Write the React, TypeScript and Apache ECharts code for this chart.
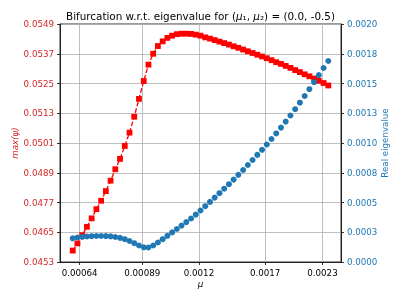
import React, { useEffect, useRef } from "react";
import * as echarts from "echarts";

// bifurcation parameter mu (log-spaced samples)
const mu = [
  0.000617, 0.0006326, 0.0006486, 0.0006649, 0.0006817, 0.0006989, 0.0007166, 0.0007347, 0.0007532, 0.0007722,
  0.0007917, 0.0008117, 0.0008322, 0.0008532, 0.0008748, 0.0008969, 0.0009195, 0.0009427, 0.0009665, 0.000991,
  0.001016, 0.0010416, 0.0010679, 0.0010949, 0.0011225, 0.0011509, 0.0011799, 0.0012097, 0.0012403, 0.0012716,
  0.0013037, 0.0013366, 0.0013704, 0.001405, 0.0014405, 0.0014768, 0.0015141, 0.0015523, 0.0015916, 0.0016317,
  0.0016729, 0.0017152, 0.0017585, 0.0018029, 0.0018484, 0.0018951, 0.0019429, 0.001992, 0.0020423, 0.0020939,
  0.0021467, 0.0022009, 0.0022565, 0.0023135, 0.0023719,
];

// max(psi), left axis (red squares, dashed)
const maxPsi = [
  0.04576, 0.04605, 0.04638, 0.04672, 0.04706, 0.04743, 0.04777, 0.04816, 0.04858, 0.04904,
  0.04946, 0.04998, 0.05052, 0.05116, 0.05188, 0.0526, 0.05326, 0.0537, 0.05401, 0.0542,
  0.05434, 0.05443, 0.05449, 0.05451, 0.05451, 0.0545, 0.05447, 0.05443, 0.05436, 0.05431,
  0.05425, 0.05419, 0.05413, 0.05407, 0.054, 0.05394, 0.05387, 0.0538, 0.05373, 0.05366,
  0.05359, 0.05352, 0.05344, 0.05336, 0.05329, 0.05321, 0.05313, 0.05304, 0.05296, 0.05287,
  0.05279, 0.0527, 0.05261, 0.05252, 0.05242,
];

// real eigenvalue, right axis (blue circles)
const realEig = [
  0.0001992, 0.0002059, 0.0002109, 0.0002143, 0.0002168, 0.0002185, 0.0002185, 0.0002176, 0.0002151, 0.0002101,
  0.0002025, 0.0001916, 0.0001765, 0.000158, 0.0001387, 0.0001235, 0.0001218, 0.0001387, 0.0001639, 0.0001916,
  0.0002202, 0.0002487, 0.0002773, 0.0003059, 0.0003353, 0.0003655, 0.0003983, 0.0004328, 0.0004689, 0.000505,
  0.0005412, 0.0005781, 0.0006159, 0.0006538, 0.0006924, 0.0007327, 0.0007731, 0.0008151, 0.0008571, 0.0009,
  0.0009428, 0.0009874, 0.0010336, 0.0010806, 0.0011294, 0.0011798, 0.001231, 0.001284, 0.0013386, 0.0013949,
  0.001452, 0.0015109, 0.0015705, 0.0016302, 0.001689,
];

const xTickValues = [0.00064, 0.00089, 0.0012, 0.0017, 0.0023];
const xTickLabels = ["0.00064", "0.00089", "0.0012", "0.0017", "0.0023"];
const leftTickLabels = ["0.0453", "0.0465", "0.0477", "0.0489", "0.0501", "0.0513", "0.0525", "0.0537", "0.0549"];
const rightTickLabels = ["0.0000", "0.0003", "0.0005", "0.0008", "0.0010", "0.0013", "0.0015", "0.0018", "0.0020"];

const LEFT_MIN = 0.0453;
const LEFT_MAX = 0.0549;
const LEFT_STEP = 0.0012;
const RIGHT_MIN = 0;
const RIGHT_MAX = 0.002;
const RIGHT_STEP = 0.00025;

const FONT = "DejaVu Sans";
const RED = "#ff0000";
const RED_TXT = "#d62728";
const BLUE = "#1f77b4";

export default function App() {
  const ref = useRef<HTMLDivElement>(null);

  useEffect(() => {
    if (!ref.current) return;
    const chart = echarts.init(ref.current, undefined, { renderer: "svg" });

    const xLabel = (v: number) => {
      let best = 0;
      for (let i = 1; i < xTickValues.length; i++) {
        if (Math.abs(Math.log(xTickValues[i] / v)) < Math.abs(Math.log(xTickValues[best] / v))) best = i;
      }
      return xTickLabels[best];
    };

    chart.setOption({
      animation: false,
      textStyle: { fontFamily: FONT },
      grid: {
        left: 60,
        right: 58,
        top: 24,
        bottom: 37,
        show: true,
        borderColor: "#000",
        borderWidth: 0.8,
        containLabel: false,
        outerBoundsMode: "none",
      },
      graphic: [
        {
          type: "text",
          x: 200.5,
          y: 16,
          style: {
            text: "{t|Bifurcation w.r.t. eigenvalue for (}{m|μ}{t|₁, }{m|μ}{t|₂) = (0.0, -0.5)}",
            align: "center",
            verticalAlign: "middle",
            rich: {
              t: { fontFamily: FONT, fontSize: 10.4, fill: "#000" },
              m: { fontFamily: FONT, fontSize: 10.4, fontStyle: "italic", fill: "#000" },
            },
          },
        },
      ],
      xAxis: {
        type: "log",
        logBase: 10,
        min: 0.000577,
        max: 0.002536,
        axisLine: { show: true, lineStyle: { color: "#000", width: 0.8 } },
        axisTick: { show: true, inside: false, length: 3, customValues: xTickValues, lineStyle: { color: "#000", width: 0.8 } },
        axisLabel: { show: true, customValues: xTickValues, margin: 6, color: "#000", fontSize: 8.7, fontFamily: FONT, formatter: (v: number) => xLabel(v) },
        splitLine: { show: true, lineStyle: { color: "#b0b0b0", width: 0.8 } },
        minorTick: { show: false },
        minorSplitLine: { show: false },
        name: "μ",
        nameLocation: "middle",
        nameGap: 17,
        nameMoveOverlap: false,
        nameTextStyle: { fontStyle: "italic", fontSize: 8.7, color: "#000", fontFamily: FONT },
      },
      yAxis: [
        {
          type: "value",
          position: "left",
          min: LEFT_MIN,
          max: LEFT_MAX,
          interval: LEFT_STEP,
          axisLine: { show: true, lineStyle: { color: "#000", width: 0.8 } },
          axisTick: { show: true, inside: false, length: 3, lineStyle: { color: "#000", width: 0.8 } },
          axisLabel: {
            margin: 6,
            color: RED_TXT,
            fontSize: 8.7,
            fontFamily: FONT,
            formatter: (v: number) => leftTickLabels[Math.round((v - LEFT_MIN) / LEFT_STEP)] ?? "",
          },
          splitLine: { show: true, lineStyle: { color: "#b0b0b0", width: 0.8 } },
          name: "max(ψ)",
          nameLocation: "middle",
          nameRotate: 90,
          nameGap: 41,
          nameMoveOverlap: false,
          nameTextStyle: { fontStyle: "italic", fontSize: 8.7, color: RED_TXT, fontFamily: FONT },
        },
        {
          type: "value",
          position: "right",
          min: RIGHT_MIN,
          max: RIGHT_MAX,
          interval: RIGHT_STEP,
          axisLine: { show: true, lineStyle: { color: "#000", width: 0.8 } },
          axisTick: { show: true, inside: false, length: 3, lineStyle: { color: "#000", width: 0.8 } },
          axisLabel: {
            margin: 6,
            color: BLUE,
            fontSize: 8.7,
            fontFamily: FONT,
            formatter: (v: number) => rightTickLabels[Math.round((v - RIGHT_MIN) / RIGHT_STEP)] ?? "",
          },
          splitLine: { show: false },
          name: "Real eigenvalue",
          nameLocation: "middle",
          nameRotate: 90,
          nameGap: 39,
          nameMoveOverlap: false,
          nameTextStyle: { fontSize: 8.7, color: BLUE, fontFamily: FONT },
        },
      ],
      series: [
        {
          type: "line",
          yAxisIndex: 0,
          data: mu.map((m, i) => [m, maxPsi[i]]),
          symbol: "rect",
          symbolSize: 5.8,
          showSymbol: true,
          itemStyle: { color: RED, opacity: 1 },
          lineStyle: { color: RED, width: 1.3, type: [4.8, 2.1] },
          z: 2,
        },
        {
          type: "scatter",
          yAxisIndex: 1,
          data: mu.map((m, i) => [m, realEig[i]]),
          symbol: "circle",
          symbolSize: 6,
          itemStyle: { color: BLUE, opacity: 1 },
          z: 3,
        },
      ],
    });

    return () => chart.dispose();
  }, []);

  return <div ref={ref} style={{ position: "fixed", left: 0, top: 0, width: 399, height: 299 }} />;
}
